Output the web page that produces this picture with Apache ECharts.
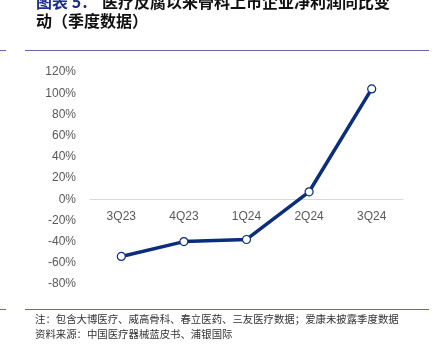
<!DOCTYPE html>
<html>
<head>
<meta charset="utf-8">
<script src="https://cdn.jsdelivr.net/npm/echarts@6/dist/echarts.min.js"></script>
<style>
html,body{margin:0;padding:0;background:#fff;}
#chart{width:438px;height:353px;}
</style>
</head>
<body>
<div id="chart"></div>
<script>
var categories = ['3Q23', '4Q23', '1Q24', '2Q24', '3Q24'];
var profitYoY = [-54, -40, -38, 7, 104];
var titleLine1Prefix = '图表 5：';
var titleLine1Rest = '医疗反腐以来骨科上市企业净利润同比变';
var titleLine2 = '动（季度数据）';
var note1 = '注：包含大博医疗、威高骨科、春立医药、三友医疗数据；爱康未披露季度数据';
var note2 = '资料来源：中国医疗器械蓝皮书、浦银国际';

var cjk = '"Noto Sans CJK SC", sans-serif';
var chart = echarts.init(document.getElementById('chart'), null, {renderer: 'canvas'});
chart.setOption({
  animation: false,
  backgroundColor: '#ffffff',
  grid: {left: 90, right: 35, top: 72, bottom: 69, containLabel: false},
  xAxis: {
    type: 'category',
    data: categories,
    boundaryGap: true,
    position: 'bottom',
    offset: -85,
    axisLine: {onZero: false, lineStyle: {color: '#d9d9d9', width: 1}},
    axisTick: {show: false},
    axisLabel: {color: '#595959', fontSize: 12, margin: 12, fontFamily: 'Liberation Sans, Arial, sans-serif'},
    splitLine: {show: false}
  },
  yAxis: {
    type: 'value',
    min: -80, max: 120, interval: 20,
    axisLine: {show: false},
    axisTick: {show: false},
    splitLine: {show: false},
    axisLabel: {color: '#595959', fontSize: 12, margin: 14, fontFamily: 'Liberation Sans, Arial, sans-serif', formatter: '{value}%'}
  },
  series: [{
    type: 'line',
    data: profitYoY,
    symbol: 'circle',
    symbolSize: 8,
    lineStyle: {color: '#0a2d7c', width: 3.5},
    itemStyle: {color: '#ffffff', borderColor: '#0a2d7c', borderWidth: 1.2}
  }],
  graphic: [
    {type: 'text', left: 36, top: -6, style: {text: titleLine1Prefix, fill: '#1f2f8a', font: 'bold 16px ' + cjk}},
    {type: 'text', left: 102, top: -6, style: {text: titleLine1Rest, fill: '#111111', font: 'bold 16px ' + cjk}},
    {type: 'text', left: 36, top: 13, style: {text: titleLine2, fill: '#111111', font: 'bold 16px ' + cjk}},
    {type: 'line', shape: {x1: 0, y1: 50.5, x2: 6, y2: 50.5}, style: {stroke: '#6f64a8', lineWidth: 1}},
    {type: 'line', shape: {x1: 25, y1: 50.5, x2: 429, y2: 50.5}, style: {stroke: '#6f64a8', lineWidth: 1}},
    {type: 'line', shape: {x1: 0, y1: 309.5, x2: 6, y2: 309.5}, style: {stroke: '#6f64a8', lineWidth: 1}},
    {type: 'line', shape: {x1: 25, y1: 309.5, x2: 429, y2: 309.5}, style: {stroke: '#6f64a8', lineWidth: 1}},
    {type: 'text', left: 35, top: 314, style: {text: note1, fill: '#333333', font: '10.4px ' + cjk}},
    {type: 'text', left: 35, top: 329, style: {text: note2, fill: '#333333', font: '10.4px ' + cjk}}
  ]
});
</script>
</body>
</html>
